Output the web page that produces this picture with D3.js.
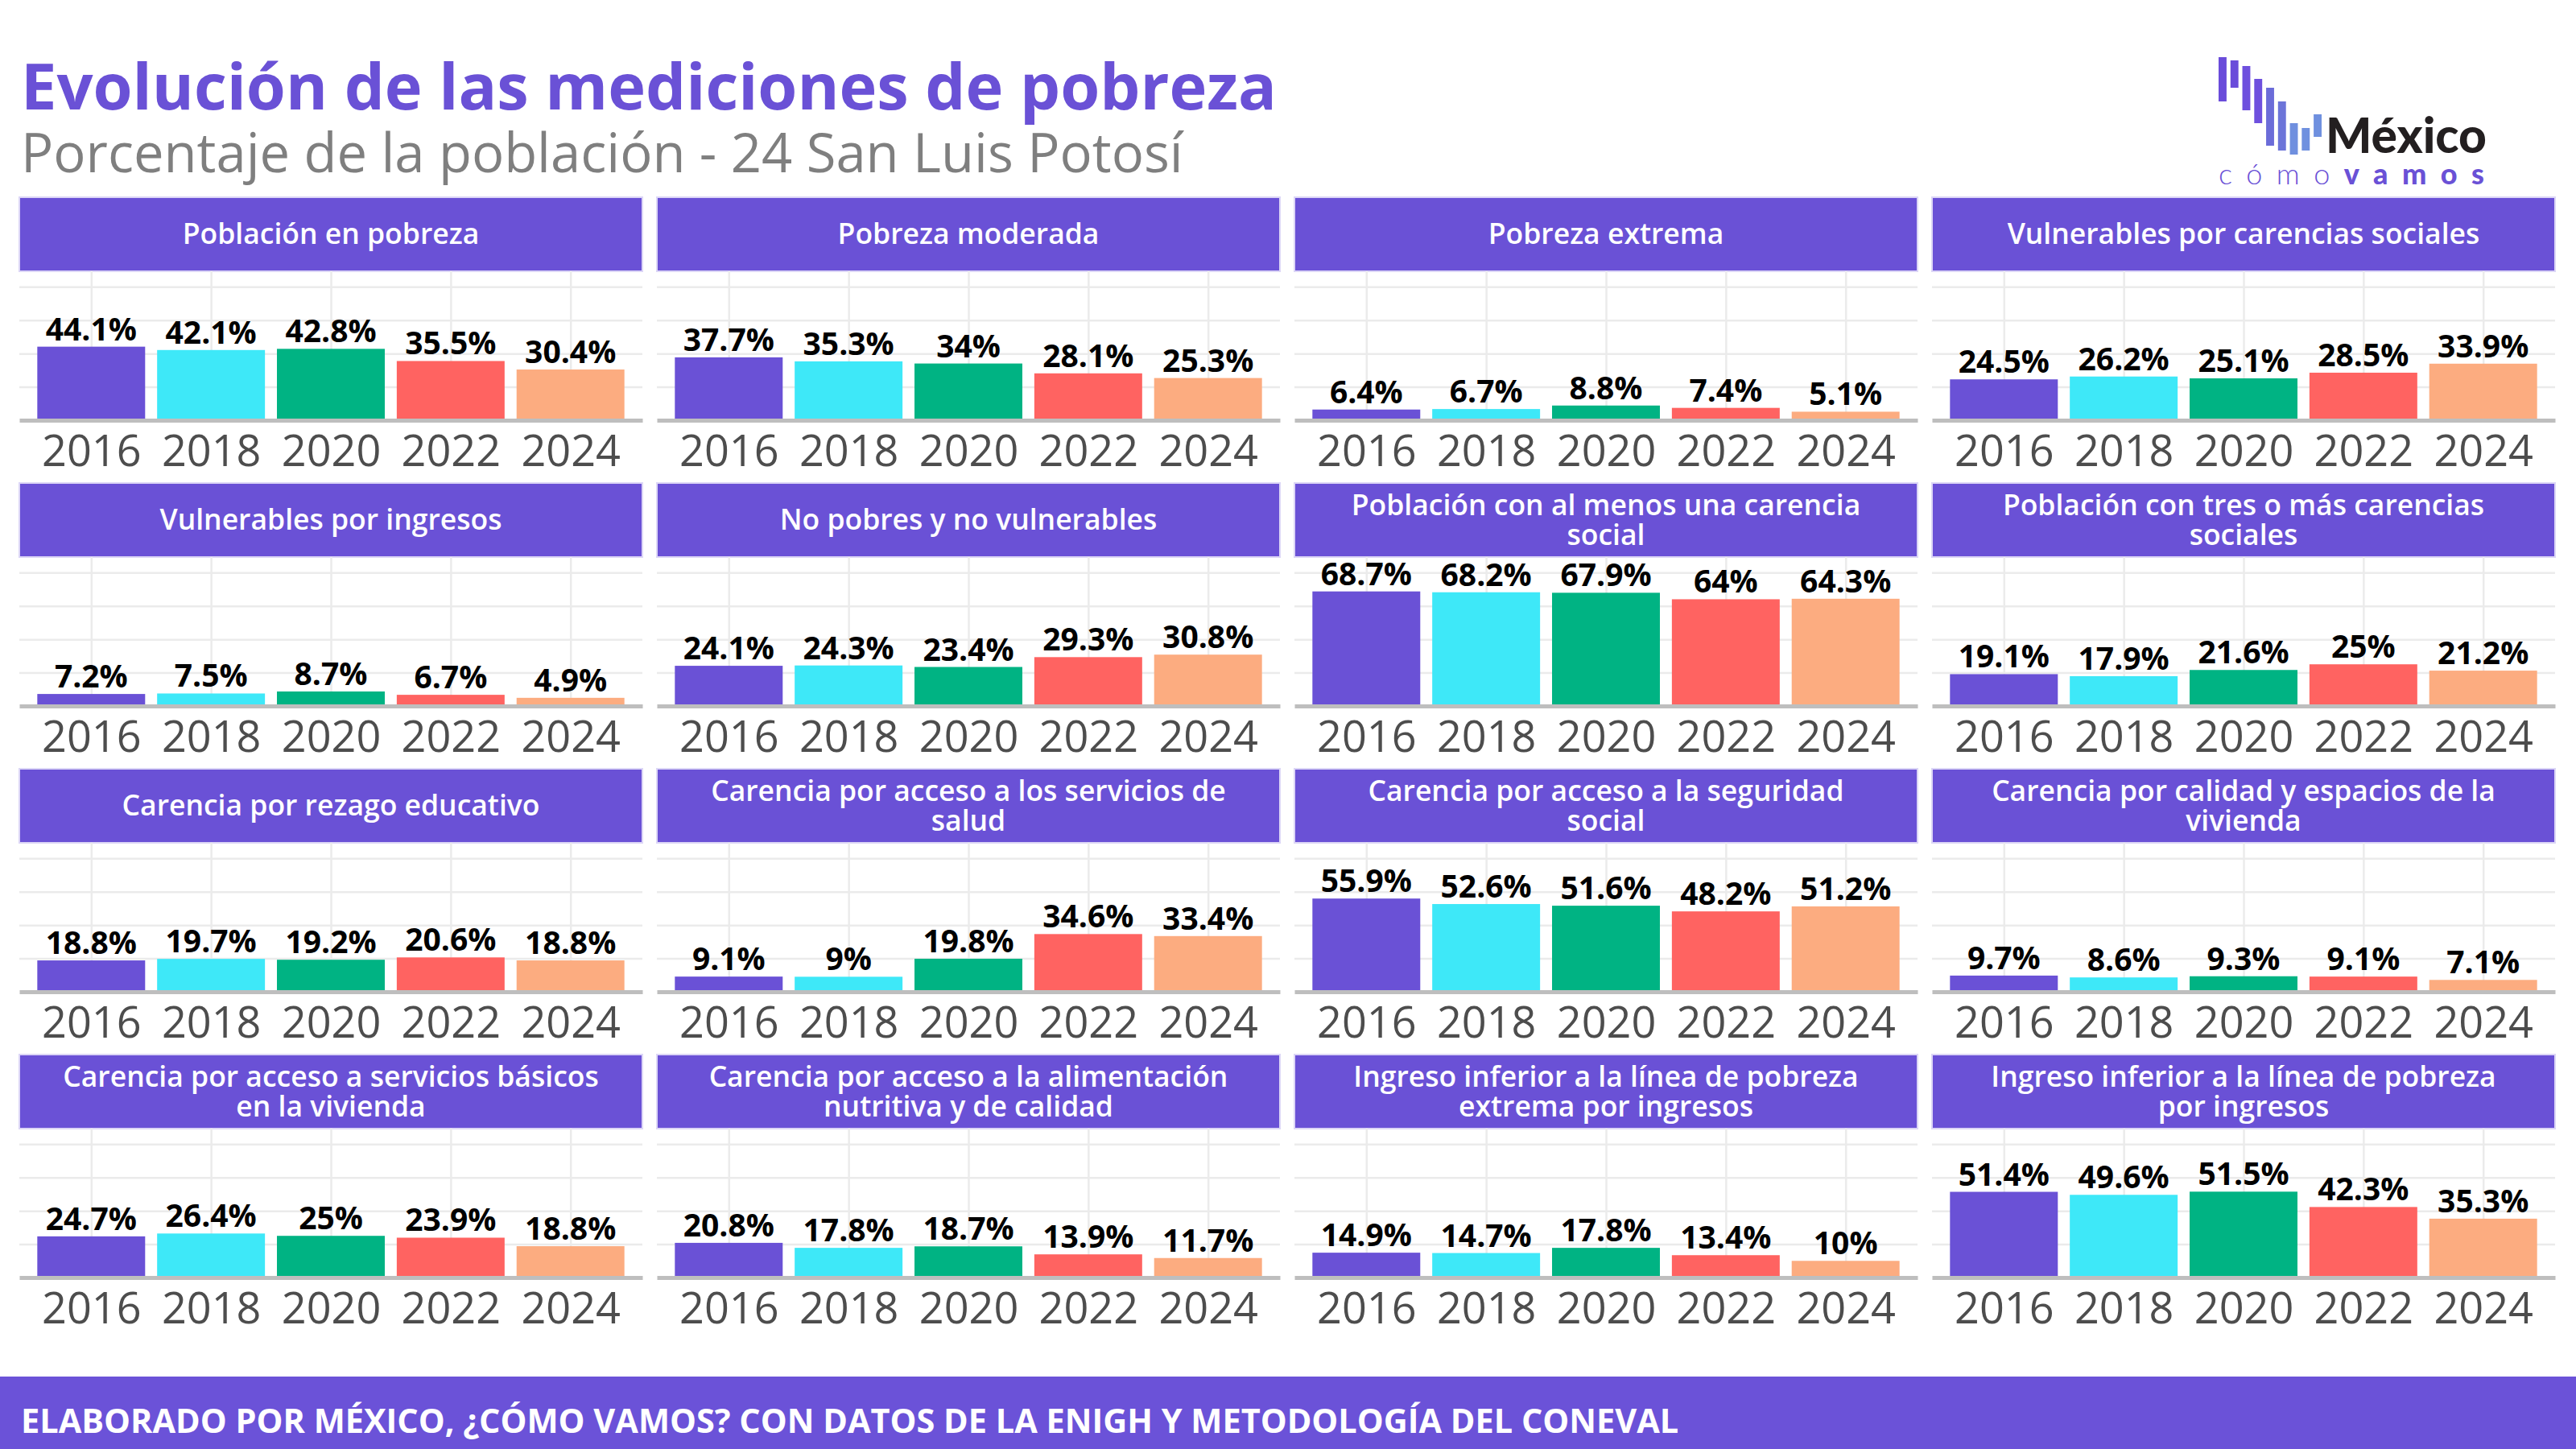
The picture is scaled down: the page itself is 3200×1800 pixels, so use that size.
<!DOCTYPE html>
<html>
<head>
<meta charset="utf-8">
<script src="https://cdn.jsdelivr.net/npm/d3@7"></script>
<style>
  html, body { margin: 0; padding: 0; background: #ffffff; }
  svg { display: block; }
</style>
</head>
<body>
<svg id="chart" width="3200" height="1800"></svg>
<script>
// ---------------- DATA ----------------
const years = ["2016", "2018", "2020", "2022", "2024"];

const indicators = [
  "Población en pobreza",
  "Pobreza moderada",
  "Pobreza extrema",
  "Vulnerables por carencias sociales",
  "Vulnerables por ingresos",
  "No pobres y no vulnerables",
  "Población con al menos una carencia\nsocial",
  "Población con tres o más carencias\nsociales",
  "Carencia por rezago educativo",
  "Carencia por acceso a los servicios de\nsalud",
  "Carencia por acceso a la seguridad\nsocial",
  "Carencia por calidad y espacios de la\nvivienda",
  "Carencia por acceso a servicios básicos\nen la vivienda",
  "Carencia por acceso a la alimentación\nnutritiva y de calidad",
  "Ingreso inferior a la línea de pobreza\nextrema por ingresos",
  "Ingreso inferior a la línea de pobreza\npor ingresos"
];

const values = [
  [44.1, 42.1, 42.8, 35.5, 30.4],
  [37.7, 35.3, 34.0, 28.1, 25.3],
  [6.4, 6.7, 8.8, 7.4, 5.1],
  [24.5, 26.2, 25.1, 28.5, 33.9],
  [7.2, 7.5, 8.7, 6.7, 4.9],
  [24.1, 24.3, 23.4, 29.3, 30.8],
  [68.7, 68.2, 67.9, 64.0, 64.3],
  [19.1, 17.9, 21.6, 25.0, 21.2],
  [18.8, 19.7, 19.2, 20.6, 18.8],
  [9.1, 9.0, 19.8, 34.6, 33.4],
  [55.9, 52.6, 51.6, 48.2, 51.2],
  [9.7, 8.6, 9.3, 9.1, 7.1],
  [24.7, 26.4, 25.0, 23.9, 18.8],
  [20.8, 17.8, 18.7, 13.9, 11.7],
  [14.9, 14.7, 17.8, 13.4, 10.0],
  [51.4, 49.6, 51.5, 42.3, 35.3]
];

const yearColors = ["#6A51D6", "#3EE8F8", "#00B383", "#FF6361", "#FCAC80"];
const gridValues = [20, 40, 60, 80];

const titleText = "Evolución de las mediciones de pobreza";
const subtitleText = "Porcentaje de la población - 24 San Luis Potosí";
const footerText = "ELABORADO POR MÉXICO, ¿CÓMO VAMOS? CON DATOS DE LA ENIGH Y METODOLOGÍA DEL CONEVAL";

// logo bars: [top, bottom] in logo units (decorative mark)
const logoBars = [[71,126],[75,109],[82,137],[98,153],[109,181],[126,187],[153,192],[159,187],[142,170]];
const logoColors = ["#6A4CDA","#6A4CDA","#6E50DE","#6E50DE","#6B6CD8","#6C74D9","#6F8FDF","#6F90DF","#6F90DF"];

// ---------------- LAYOUT ----------------
const W = 3200, H = 1800;
const nCols = 4;
const panelW = 774, colPitch = 792, left0 = 24;
const top0 = 245, rowPitch = 355;
const stripH = 92, plotH = 185;
const purple = "#6A51D6";
const fontMain = "'Open Sans', 'Noto Sans', sans-serif";

const svg = d3.select("#chart");
svg.append("rect").attr("width", W).attr("height", H).attr("fill", "#ffffff");

function fitWidth(sel, target) {
  const node = sel.node();
  const fs = parseFloat(sel.attr("font-size"));
  const len = node.getComputedTextLength();
  if (len > 0) sel.attr("font-size", fs * target / len);
}

// Title & subtitle
const t = svg.append("text")
  .attr("x", 26).attr("y", 136)
  .attr("font-family", fontMain).attr("font-weight", 700)
  .attr("font-size", 78).attr("fill", "#6A51D6")
  .text(titleText);
fitWidth(t, 1560);

const st = svg.append("text")
  .attr("x", 26).attr("y", 214)
  .attr("font-family", fontMain).attr("font-weight", 400)
  .attr("font-size", 64).attr("fill", "#7F7F7F")
  .text(subtitleText);
fitWidth(st, 1444);

// Logo
const logo = svg.append("g");
const logoX = d3.scaleBand().domain(d3.range(logoBars.length)).range([2756, 2884]).paddingInner(0.33);
logo.selectAll("rect").data(logoBars).join("rect")
  .attr("x", (d, i) => logoX(i))
  .attr("y", d => d[0])
  .attr("width", logoX.bandwidth())
  .attr("height", d => d[1] - d[0])
  .attr("fill", (d, i) => logoColors[i]);
const mx = logo.append("text")
  .attr("x", 2889).attr("y", 190)
  .attr("font-family", "Lato, 'Open Sans', sans-serif").attr("font-weight", 900)
  .attr("font-size", 64).attr("fill", "#231F20")
  .text("México");
fitWidth(mx, 200);
const cv = logo.append("text")
  .attr("x", 2756).attr("y", 229)
  .attr("font-family", "Lato, 'Open Sans', sans-serif")
  .attr("font-size", 36).attr("fill", "#6A51D6")
  .attr("textLength", 330).attr("lengthAdjust", "spacing");
cv.append("tspan").attr("font-weight", 300).text("cómo");
cv.append("tspan").attr("font-weight", 900).text("vamos");

// Panels
const x = d3.scalePoint().domain(years).range([0, panelW]).padding(0.6);
const bw = x.step() * 0.9;
const yMax = d3.max(values.flat()) * 1.3;
const y = d3.scaleLinear().domain([0, yMax]).range([plotH, 0]);

indicators.forEach((name, i) => {
  const col = i % nCols, row = Math.floor(i / nCols);
  const gx = left0 + col * colPitch;
  const gy = top0 + row * rowPitch;
  const g = svg.append("g").attr("transform", `translate(${gx},${gy})`);

  // strip
  g.append("rect")
    .attr("x", 0).attr("y", 0).attr("width", panelW).attr("height", stripH)
    .attr("fill", purple).attr("stroke", "#DCD6F6").attr("stroke-width", 2);
  const lines = name.split("\n");
  const lh = 37;
  const stx = g.append("text")
    .attr("text-anchor", "middle")
    .attr("font-family", fontMain).attr("font-weight", 600)
    .attr("font-size", 35.5).attr("fill", "#ffffff");
  lines.forEach((ln, k) => {
    stx.append("tspan")
      .attr("x", panelW / 2)
      .attr("y", stripH / 2 + 12 + (k - (lines.length - 1) / 2) * lh)
      .text(ln);
  });

  const p = g.append("g").attr("transform", `translate(0,${stripH})`);

  // horizontal grid
  p.append("g")
    .call(d3.axisLeft(y).tickValues(gridValues).tickSize(-panelW).tickFormat(""))
    .call(a => a.select(".domain").remove())
    .call(a => a.selectAll("line").attr("stroke", "#EBEBEB").attr("stroke-width", 2.5));
  // vertical grid
  p.append("g").attr("transform", `translate(0,${plotH})`)
    .call(d3.axisBottom(x).tickSize(plotH).tickSizeOuter(0).tickFormat(""))
    .call(a => a.select(".domain").remove())
    .call(a => a.selectAll("line").attr("stroke", "#EBEBEB").attr("stroke-width", 2.5)
      .attr("y2", -plotH));

  // bars
  p.selectAll("rect.bar").data(values[i]).join("rect")
    .attr("class", "bar")
    .attr("x", (d, j) => x(years[j]) - bw / 2)
    .attr("y", d => y(d))
    .attr("width", bw)
    .attr("height", d => plotH - y(d))
    .attr("fill", (d, j) => yearColors[j]);

  // value labels
  p.selectAll("text.val").data(values[i]).join("text")
    .attr("class", "val")
    .attr("x", (d, j) => x(years[j]))
    .attr("y", d => y(d) - 8)
    .attr("text-anchor", "middle")
    .attr("font-family", fontMain).attr("font-weight", 700)
    .attr("font-size", 39).attr("fill", "#000000")
    .text(d => d3.format("")(+d.toFixed(1)) + "%");

  // x axis
  p.append("g").attr("transform", `translate(0,${plotH})`)
    .call(d3.axisBottom(x).tickSize(0).tickSizeOuter(0).tickPadding(19))
    .call(a => a.select(".domain").attr("stroke", "#BEBEBE").attr("stroke-width", 5))
    .call(a => a.selectAll("text")
      .attr("font-family", fontMain).attr("font-weight", 400)
      .attr("font-size", 54).attr("fill", "#4D4D4D"));
});

// Footer
svg.append("rect").attr("x", 0).attr("y", 1710).attr("width", W).attr("height", 90).attr("fill", "#6B52D8");
const ft = svg.append("text")
  .attr("x", 26).attr("y", 1780)
  .attr("font-family", fontMain).attr("font-weight", 700)
  .attr("font-size", 46).attr("fill", "#ffffff")
  .text(footerText);
fitWidth(ft, 2060);
</script>
</body>
</html>
